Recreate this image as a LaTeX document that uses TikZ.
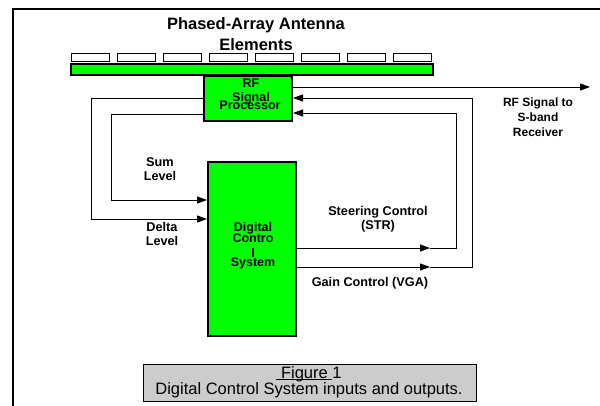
\documentclass[tikz,border=0pt]{standalone}
\usepackage{fontspec}
\setmainfont{Liberation Sans}
\usetikzlibrary{arrows.meta}
\definecolor{brightgreen}{RGB}{0,255,0}
\definecolor{capgray}{RGB}{204,204,204}
\newcommand{\ulfig}[1]{{\setbox0\hbox{#1}\rlap{\rule[-2pt]{\wd0}{0.8pt}}\box0}}
\begin{document}
\begin{tikzpicture}[x=1pt,y=-1pt,
  box/.style={draw=black, line width=2pt, fill=brightgreen, inner sep=0pt},
  elem/.style={draw=black, line width=1pt, fill=white, minimum width=38pt, minimum height=8pt, inner sep=0pt},
  wire/.style={line width=1pt},
  tip/.style={-{Triangle[length=10pt,width=7pt]}},
  lbl/.style={font=\bfseries\fontsize{12.7}{14}\selectfont, align=center, inner sep=0pt},
  boxtxt/.style={font=\bfseries\fontsize{12.5}{14}\selectfont, inner sep=0pt},
  title/.style={font=\bfseries\fontsize{16.5}{20}\selectfont, inner sep=0pt},
  capbox/.style={draw=black, line width=1pt, fill=capgray, inner sep=0pt},
  captxt/.style={font=\fontsize{16.5}{16}\selectfont, align=center, inner sep=0pt}
]
\useasboundingbox (0,0) rectangle (600,405);
\fill[white] (0,0) rectangle (600,405);
\draw[line width=2pt] (601,9) -- (13,9) -- (13,406);

% title
\node[title] (t1) at (256,25) {Phased-Array Antenna};
\node[title] (t2) at (256,45) {Elements};

% antenna elements
\foreach \i in {0,...,7} {
  \node[elem] (e\i) at (90.5+46*\i,57.5) {};
}
% green bar
\node[box, minimum width=362pt, minimum height=11pt] (bar) at (252,69.5) {};

% RF signal processor
\node[box, minimum width=88pt, minimum height=45pt] (rf) at (248,98.5) {};
\node[boxtxt] (rf1) at (251,83) {RF};
\node[boxtxt] (rf2) at (251,98) {Signal};
\node[boxtxt] (rf3) at (250,105.5) {Processor};

% Digital control system
\node[box, minimum width=88pt, minimum height=174pt] (dcs) at (252,249) {};
\node[boxtxt] (d1) at (253,228.5) {Digital};
\node[boxtxt] (d2) at (253,238.5) {Contro};
\node[boxtxt] (d3) at (253,253) {l};
\node[boxtxt] (d4) at (253,263) {System};

% coordinates
\coordinate (rfout) at (590,87);
\coordinate (delA) at (91,98);
\coordinate (delB) at (91,219);
\coordinate (sumA) at (111,114);
\coordinate (sumB) at (111,200);
\coordinate (strM) at (430,248);
\coordinate (strC) at (456,248);
\coordinate (strD) at (456,113);
\coordinate (vgaM) at (430,267);
\coordinate (vgaC) at (472,267);
\coordinate (vgaD) at (472,98);

% connectors
\draw[wire, tip] (rf.east |- rfout) -- (rfout);
\draw[wire, tip] (rf.west |- delA) -- (delA) -- (delB) -- (dcs.west |- delB);
\draw[wire, tip] (rf.west |- sumA) -- (sumA) -- (sumB) -- (dcs.west |- sumB);
\draw[wire, tip] (dcs.east |- strM) -- (strM);
\draw[wire, tip] (strM) -- (strC) -- (strD) -- (rf.east |- strD);
\draw[wire, tip] (dcs.east |- vgaM) -- (vgaM);
\draw[wire, tip] (vgaM) -- (vgaC) -- (vgaD) -- (rf.east |- vgaD);

% labels
\node[lbl] (lsum) at (160,169) {Sum\\Level};
\node[lbl] (ldel) at (162,234) {Delta\\Level};
\node[lbl] (lstr) at (378,219) {Steering Control\\(STR)};
\node[lbl] (lvga) at (370,283.5) {Gain Control (VGA)};
\node[lbl, font=\bfseries\fontsize{12}{15}\selectfont] (lrf) at (538,117) {RF Signal to\\S-band\\Receiver};

% caption
\node[capbox, minimum width=333pt, minimum height=37pt] (cap) at (309.5,382.5) {};
\node[captxt] (capt) at (309,382) {\ulfig{\ Figure\ }1\\Digital Control System inputs and outputs.};
\end{tikzpicture}
\end{document}
